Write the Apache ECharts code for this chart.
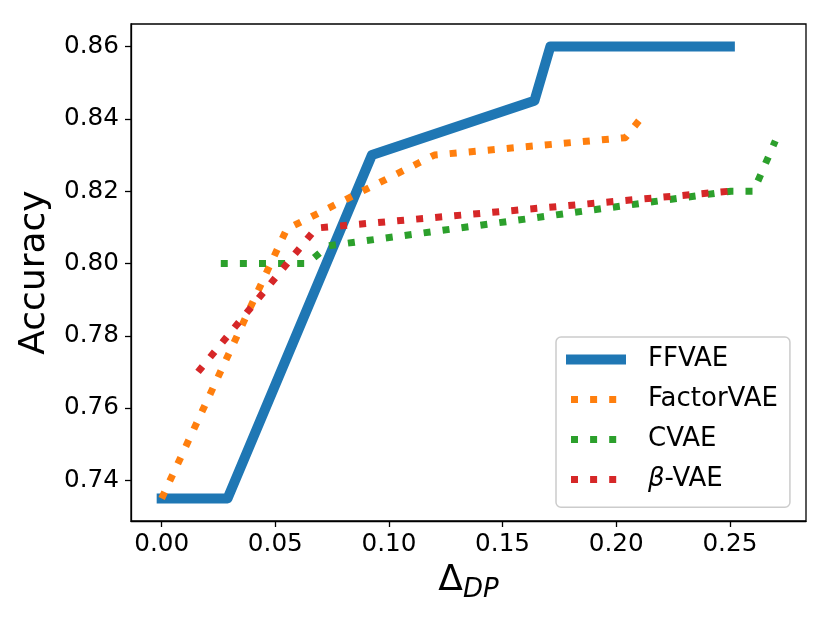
<!DOCTYPE html>
<html>
<head>
<meta charset="utf-8">
<script src="https://cdn.jsdelivr.net/npm/echarts@6/dist/echarts.min.js"></script>
<style>
html,body{margin:0;padding:0;background:#fff;}
#chart{width:830px;height:623px;}
</style>
</head>
<body>
<div id="chart"></div>
<script>
// ---- data ----
const seriesNames = ['FFVAE', 'FactorVAE', 'CVAE', 'β-VAE'];
const ffvaeX = [0.000, 0.029, 0.0925, 0.164, 0.171, 0.250];
const ffvaeY = [0.735, 0.735, 0.830, 0.845, 0.860, 0.860];
const factorX = [0.000, 0.055, 0.120, 0.204, 0.210];
const factorY = [0.735, 0.8095, 0.830, 0.8348, 0.8395];
const cvaeX = [0.026, 0.064, 0.0734, 0.2506, 0.2604, 0.270];
const cvaeY = [0.800, 0.800, 0.8049, 0.820, 0.820, 0.8339];
const betaX = [0.016, 0.068, 0.250];
const betaY = [0.770, 0.8098, 0.820];
const xTicks = [0.00, 0.05, 0.10, 0.15, 0.20, 0.25];
const yTicks = [0.74, 0.76, 0.78, 0.80, 0.82, 0.84, 0.86];
const xLabel = 'Δ';
const xLabelSub = 'DP';
const yLabel = 'Accuracy';

// ---- chart ----
const FONT = 'DejaVu Sans';
const colors = ['#1f77b4', '#ff7f0e', '#2ca02c', '#d62728'];
const dotDash = [7, 12.1];
const zip = (xs, ys) => xs.map((x, i) => [x, ys[i]]);
const allX = [ffvaeX, factorX, cvaeX, betaX];
const allY = [ffvaeY, factorY, cvaeY, betaY];

const chart = echarts.init(document.getElementById('chart'), null, {renderer: 'canvas'});

const lineStyles = [
  {width: 10, color: colors[0], cap: 'square', join: 'round', type: 'solid'},
  {width: 7, color: colors[1], cap: 'butt', join: 'round', type: dotDash},
  {width: 7, color: colors[2], cap: 'butt', join: 'round', type: dotDash},
  {width: 7, color: colors[3], cap: 'butt', join: 'round', type: dotDash}
];

const series = seriesNames.map((name, i) => ({
  name: name,
  type: 'line',
  symbol: 'none',
  showSymbol: false,
  data: zip(allX[i], allY[i]),
  lineStyle: lineStyles[i],
  itemStyle: {color: colors[i]},
  emphasis: {disabled: true},
  z: 2 + i
}));

const option = {
  animation: false,
  backgroundColor: '#ffffff',
  grid: {
    left: 131, right: 24, top: 24, bottom: 102,
    show: true, borderColor: '#000', borderWidth: 1.3,
    backgroundColor: 'transparent'
  },
  xAxis: {
    type: 'value',
    min: -0.0135, max: 0.2835,
    name: '{d|' + xLabel + '}{s|' + xLabelSub + '}',
    nameLocation: 'middle',
    nameGap: 38,
    nameTextStyle: {
      color: '#000',
      rich: {
        d: {fontSize: 36, fontFamily: FONT, color: '#000', lineHeight: 44},
        s: {fontSize: 26, fontFamily: FONT, fontStyle: 'italic', color: '#000', lineHeight: 26, verticalAlign: 'bottom'}
      }
    },
    axisLine: {show: true, onZero: false, lineStyle: {color: '#000', width: 1.3}},
    axisTick: {show: true, inside: false, length: 6, lineStyle: {color: '#000', width: 1.3}, customValues: xTicks},
    axisLabel: {
      customValues: xTicks,
      formatter: v => Number(v).toFixed(2),
      fontSize: 24.7, fontFamily: FONT, color: '#000', margin: 11
    },
    splitLine: {show: false}
  },
  yAxis: {
    type: 'value',
    min: 0.72875, max: 0.86625,
    name: yLabel,
    nameLocation: 'middle',
    nameGap: 76,
    nameTextStyle: {fontSize: 36, fontFamily: FONT, color: '#000'},
    axisLine: {show: true, onZero: false, lineStyle: {color: '#000', width: 1.3}},
    axisTick: {show: true, inside: false, length: 6, lineStyle: {color: '#000', width: 1.3}, customValues: yTicks},
    axisLabel: {
      customValues: yTicks,
      formatter: v => Number(v).toFixed(2),
      fontSize: 24.7, fontFamily: FONT, color: '#000', margin: 12
    },
    splitLine: {show: false}
  },
  legend: {
    orient: 'vertical',
    left: 556, top: 337,
    padding: [9.5, 12, 14.7, 10],
    backgroundColor: 'rgba(255,255,255,0.8)',
    borderColor: '#cccccc', borderWidth: 1.5, borderRadius: 5,
    itemWidth: 50, itemHeight: 26, itemGap: 14,
    selectedMode: false,
    textStyle: {
      fontSize: 26, fontFamily: FONT, color: '#000', lineHeight: 26,
      padding: [0, 0, 0, 22],
      rich: {i: {fontSize: 26, fontFamily: FONT, fontStyle: 'italic', color: '#000', lineHeight: 26}}
    },
    formatter: name => name === 'β-VAE' ? '{i|β}-VAE' : name,
    data: seriesNames.map((name, i) => ({
      name: name,
      lineStyle: lineStyles[i],
      itemStyle: {color: colors[i], opacity: 0}
    }))
  },
  series: series
};
chart.setOption(option);
</script>
</body>
</html>
